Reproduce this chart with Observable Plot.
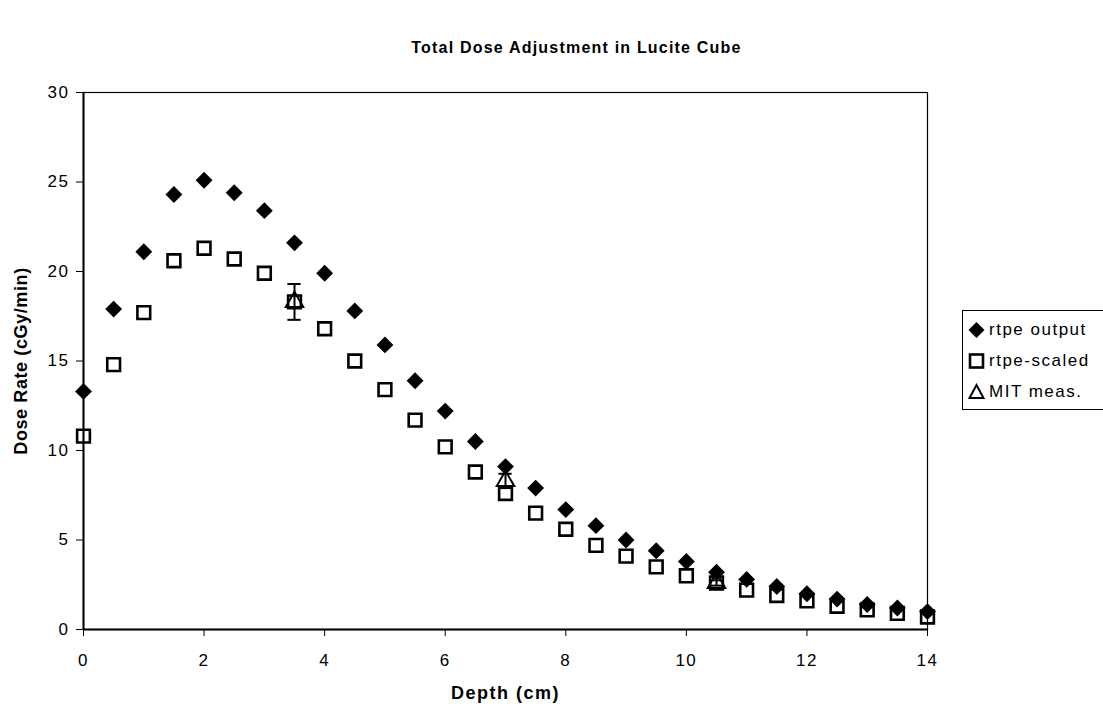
<!DOCTYPE html>
<html>
<head>
<meta charset="utf-8">
<script src="https://cdn.jsdelivr.net/npm/d3@7"></script>
<script src="https://cdn.jsdelivr.net/npm/@observablehq/plot@0.6"></script>
<style>
  body { margin: 0; background: #fff; font-family: "Liberation Sans", Arial, sans-serif; color: #000; }
  #chart { position: relative; width: 1103px; height: 709px; overflow: hidden; }
  #title { position: absolute; top: 39px; left: 25px; width: 1103px; text-align: center; font-weight: bold; font-size: 16px; letter-spacing: 1.2px; }
  #legend { position: absolute; left: 962px; top: 310px; width: 145px; height: 100px; border: 1px solid #000; box-sizing: border-box; padding: 3px 0 0 5px; }
  .item { display: flex; align-items: center; height: 31px; font-size: 17px; letter-spacing: 1.5px; }
  .item svg { margin-right: 4px; flex: none; }
</style>
</head>
<body>
<div id="chart">
  <div id="title">Total Dose Adjustment in Lucite Cube</div>
  <div id="legend">
    <div class="item"><svg width="17" height="18" viewBox="-8.5 -9 17 18"><path d="M0,-8L8,0L0,8L-8,0Z" fill="#000"/></svg>rtpe output</div>
    <div class="item"><svg width="17" height="18" viewBox="-8.5 -9 17 18"><rect x="-6.5" y="-6.5" width="13" height="13" fill="none" stroke="#000" stroke-width="2.6"/></svg>rtpe-scaled</div>
    <div class="item"><svg width="17" height="18" viewBox="-8.5 -9 17 18"><path d="M0,-7L7,6L-7,6Z" fill="none" stroke="#000" stroke-width="2"/></svg>MIT meas.</div>
  </div>
</div>
<script>
// Depth samples (cm)
const depth = [0, 0.5, 1, 1.5, 2, 2.5, 3, 3.5, 4, 4.5, 5, 5.5, 6, 6.5, 7, 7.5, 8, 8.5, 9, 9.5, 10, 10.5, 11, 11.5, 12, 12.5, 13, 13.5, 14];
// rtpe output dose rate (cGy/min)
const rtpeOutput = [13.3, 17.9, 21.1, 24.3, 25.1, 24.4, 23.4, 21.6, 19.9, 17.8, 15.9, 13.9, 12.2, 10.5, 9.1, 7.9, 6.7, 5.8, 5.0, 4.4, 3.8, 3.2, 2.8, 2.4, 2.0, 1.7, 1.4, 1.2, 1.0];
// rtpe-scaled dose rate (cGy/min)
const rtpeScaled = [10.8, 14.8, 17.7, 20.6, 21.3, 20.7, 19.9, 18.3, 16.8, 15.0, 13.4, 11.7, 10.2, 8.8, 7.6, 6.5, 5.6, 4.7, 4.1, 3.5, 3.0, 2.6, 2.2, 1.9, 1.6, 1.3, 1.1, 0.9, 0.7];
// MIT measurements with uncertainty
const mitDepth = [3.5, 7, 10.5];
const mitDose = [18.3, 8.3, 2.6];
const mitErr = [1.0, 0.4, 0.15];
// Axis ticks
const xTicks = [0, 2, 4, 6, 8, 10, 12, 14];
const yTicks = [0, 5, 10, 15, 20, 25, 30];

const rows = depth.map((d, i) => ({depth: d, output: rtpeOutput[i], scaled: rtpeScaled[i]}));
const mit = mitDepth.map((d, i) => ({depth: d, dose: mitDose[i], lo: mitDose[i] - mitErr[i], hi: mitDose[i] + mitErr[i]}));
const capHalf = 0.11;

const chart = Plot.plot({
  width: 1103,
  height: 709,
  marginLeft: 83,
  marginRight: 176,
  marginTop: 92,
  marginBottom: 80,
  style: {fontFamily: "Liberation Sans, Arial, sans-serif", fontSize: "17px", color: "#000", background: "#fff", overflow: "visible", letterSpacing: "1.5px"},
  x: {domain: [0, 14]},
  y: {domain: [0, 30]},
  marks: [
    Plot.frame({stroke: "#000", strokeWidth: 1.2}),
    Plot.ruleY([0], {stroke: "#000", strokeWidth: 2}),
    Plot.ruleX([0], {stroke: "#000", strokeWidth: 2}),
    Plot.axisX({ticks: xTicks, tickSize: 7, tickPadding: 17, tickFormat: d => d, label: null, fontSize: 17}),
    Plot.axisY({ticks: yTicks, tickSize: 7, tickPadding: 7, tickFormat: d => d, label: null, fontSize: 17}),
    Plot.text(["Depth (cm)"], {frameAnchor: "bottom", lineAnchor: "middle", dy: 64, fontWeight: "bold", fontSize: 18}),
    Plot.text(["Dose Rate (cGy/min)"], {frameAnchor: "left", textAnchor: "middle", lineAnchor: "middle", dx: -62, rotate: -90, fontWeight: "bold", fontSize: 18}),
    Plot.dot(rows, {x: "depth", y: "output", symbol: "diamond2", r: 7.6, fill: "#000", stroke: "none"}),
    Plot.dot(rows, {x: "depth", y: "scaled", symbol: "square", r: 7.2, fill: "none", stroke: "#000", strokeWidth: 2.6}),
    Plot.ruleX(mit, {x: "depth", y1: "lo", y2: "hi", stroke: "#000", strokeWidth: 2}),
    Plot.ruleY(mit, {y: "hi", x1: d => d.depth - capHalf, x2: d => d.depth + capHalf, stroke: "#000", strokeWidth: 2}),
    Plot.ruleY(mit, {y: "lo", x1: d => d.depth - capHalf, x2: d => d.depth + capHalf, stroke: "#000", strokeWidth: 2}),
    Plot.dot(mit, {x: "depth", y: "dose", symbol: "triangle", r: 6.5, fill: "none", stroke: "#000", strokeWidth: 2})
  ]
});
// the vertical axis title reads along y, so it keeps tighter spacing
chart.querySelectorAll("text").forEach(t => {
  if (t.textContent === "Dose Rate (cGy/min)") t.style.letterSpacing = "0.6px";
});
chart.style.position = "absolute";
chart.style.left = "0";
chart.style.top = "0";
document.getElementById("chart").prepend(chart);
</script>
</body>
</html>
